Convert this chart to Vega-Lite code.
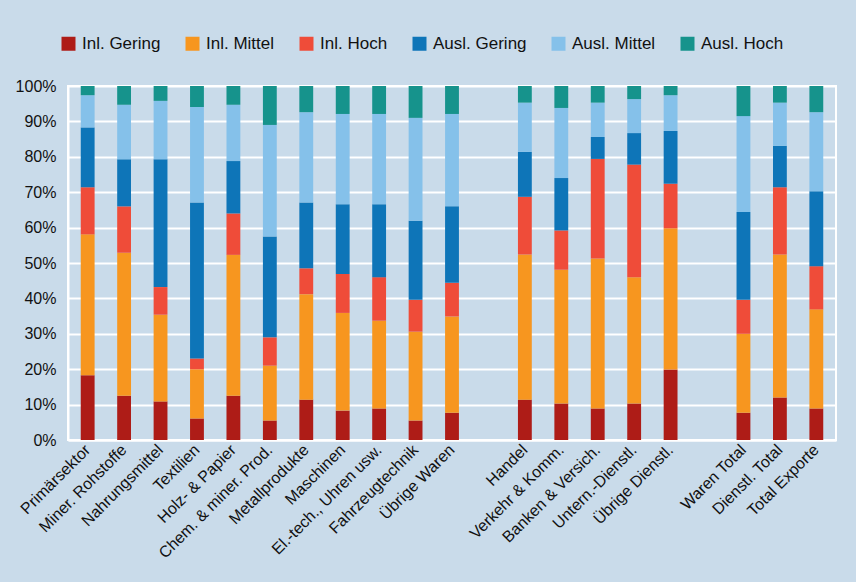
{
  "$schema": "https://vega.github.io/schema/vega-lite/v6.json",
  "width": 768,
  "height": 354,
  "autosize": {"type": "none"},
  "padding": {"left": 68, "top": 86, "right": 20, "bottom": 142},
  "background": "#c9dbea",
  "datasets": {
    "series": [
      {"k": "IG", "key": "Inl. Gering", "rank": 1},
      {"k": "IM", "key": "Inl. Mittel", "rank": 2},
      {"k": "IH", "key": "Inl. Hoch", "rank": 3},
      {"k": "AG", "key": "Ausl. Gering", "rank": 4},
      {"k": "AM", "key": "Ausl. Mittel", "rank": 5},
      {"k": "AH", "key": "Ausl. Hoch", "rank": 6}
    ]
  },
  "data": {
    "values": [
      {"c": "Primärsektor", "IG": 18.3, "IM": 39.8, "IH": 13.3, "AG": 16.9, "AM": 9.1, "AH": 2.6},
      {"c": "Miner. Rohstoffe", "IG": 12.5, "IM": 40.4, "IH": 13.1, "AG": 13.3, "AM": 15.4, "AH": 5.3},
      {"c": "Nahrungsmittel", "IG": 10.9, "IM": 24.5, "IH": 7.8, "AG": 36.1, "AM": 16.5, "AH": 4.2},
      {"c": "Textilien", "IG": 6.1, "IM": 13.9, "IH": 3.0, "AG": 44.1, "AM": 27.0, "AH": 5.9},
      {"c": "Holz- & Papier", "IG": 12.5, "IM": 39.8, "IH": 11.7, "AG": 14.8, "AM": 15.9, "AH": 5.3},
      {"c": "Chem. & miner. Prod.", "IG": 5.5, "IM": 15.5, "IH": 8.0, "AG": 28.5, "AM": 31.5, "AH": 11.0},
      {"c": "Metallprodukte", "IG": 11.4, "IM": 29.8, "IH": 7.3, "AG": 18.6, "AM": 25.5, "AH": 7.4},
      {"c": "Maschinen", "IG": 8.3, "IM": 27.6, "IH": 11.0, "AG": 19.7, "AM": 25.5, "AH": 7.9},
      {"c": "El.-tech., Uhren usw.", "IG": 8.9, "IM": 24.8, "IH": 12.3, "AG": 20.6, "AM": 25.5, "AH": 7.9},
      {"c": "Fahrzeugtechnik", "IG": 5.5, "IM": 25.1, "IH": 9.0, "AG": 22.3, "AM": 29.1, "AH": 9.0},
      {"c": "Übrige Waren", "IG": 7.7, "IM": 27.2, "IH": 9.5, "AG": 21.6, "AM": 26.1, "AH": 7.9},
      {"c": "Handel", "IG": 11.4, "IM": 41.0, "IH": 16.3, "AG": 12.7, "AM": 13.9, "AH": 4.7},
      {"c": "Verkehr & Komm.", "IG": 10.3, "IM": 37.8, "IH": 11.1, "AG": 14.8, "AM": 19.8, "AH": 6.2},
      {"c": "Banken & Versich.", "IG": 8.9, "IM": 42.4, "IH": 28.1, "AG": 6.2, "AM": 9.7, "AH": 4.7},
      {"c": "Untern.-Dienstl.", "IG": 10.3, "IM": 35.7, "IH": 31.8, "AG": 8.9, "AM": 9.6, "AH": 3.7},
      {"c": "Übrige Dienstl.", "IG": 19.9, "IM": 39.9, "IH": 12.6, "AG": 14.9, "AM": 10.1, "AH": 2.6},
      {"c": "Waren Total", "IG": 7.7, "IM": 22.3, "IH": 9.6, "AG": 24.8, "AM": 27.1, "AH": 8.5},
      {"c": "Dienstl. Total", "IG": 12.0, "IM": 40.4, "IH": 19.0, "AG": 11.7, "AM": 12.2, "AH": 4.7},
      {"c": "Total Exporte", "IG": 8.9, "IM": 28.0, "IH": 12.2, "AG": 21.2, "AM": 22.3, "AH": 7.4}
    ]
  },
  "transform": [
    {"fold": ["IG", "IM", "IH", "AG", "AM", "AH"], "as": ["k", "value"]},
    {"lookup": "k", "from": {"data": {"name": "series"}, "key": "k", "fields": ["key", "rank"]}}
  ],
  "mark": {"type": "bar"},
  "encoding": {
    "x": {
      "field": "c",
      "type": "nominal",
      "scale": {
        "domain": ["Primärsektor", "Miner. Rohstoffe", "Nahrungsmittel", "Textilien", "Holz- & Papier", "Chem. & miner. Prod.", "Metallprodukte", "Maschinen", "El.-tech., Uhren usw.", "Fahrzeugtechnik", "Übrige Waren", " ", "Handel", "Verkehr & Komm.", "Banken & Versich.", "Untern.-Dienstl.", "Übrige Dienstl.", "  ", "Waren Total", "Dienstl. Total", "Total Exporte"],
        "paddingInner": 0.62,
        "paddingOuter": 0.35
      },
      "axis": {
        "title": null,
        "labelAngle": -45,
        "labelAlign": "right",
        "labelBaseline": "middle",
        "labelFontSize": 16,
        "labelFont": "Liberation Sans",
        "labelColor": "#111",
        "labelPadding": 7,
        "ticks": false,
        "domainColor": "white",
        "domainWidth": 2,
        "grid": false,
        "labelOverlap": false
      }
    },
    "y": {
      "field": "value",
      "type": "quantitative",
      "stack": "normalize",
      "scale": {"domain": [0, 1]},
      "axis": {
        "title": null,
        "format": ".0%",
        "values": [0, 0.1, 0.2, 0.3, 0.4, 0.5, 0.6, 0.7, 0.8, 0.9, 1],
        "labelFontSize": 16,
        "labelFont": "Liberation Sans",
        "labelColor": "#111",
        "labelPadding": 12,
        "ticks": false,
        "domainColor": "white",
        "domainWidth": 2,
        "gridColor": "white",
        "gridWidth": 2,
        "gridOpacity": 1
      }
    },
    "color": {
      "field": "key",
      "type": "nominal",
      "scale": {
        "domain": ["Inl. Gering", "Inl. Mittel", "Inl. Hoch", "Ausl. Gering", "Ausl. Mittel", "Ausl. Hoch"],
        "range": ["#ae1c17", "#f7961f", "#ef4c39", "#0e75b8", "#85c1ea", "#16938c"]
      },
      "legend": {
        "title": null,
        "orient": "none",
        "direction": "horizontal",
        "legendX": -8,
        "legendY": -51,
        "labelFontSize": 17,
        "labelFont": "Liberation Sans",
        "labelColor": "#111",
        "labelOffset": 5,
        "columnPadding": 23,
        "symbolType": "square",
        "symbolSize": 196,
        "symbolStrokeWidth": 0,
        "symbolOpacity": 1
      }
    },
    "order": {"field": "rank", "type": "quantitative", "sort": "ascending"}
  },
  "config": {
    "view": {"stroke": "white", "strokeWidth": 2}
  }
}
